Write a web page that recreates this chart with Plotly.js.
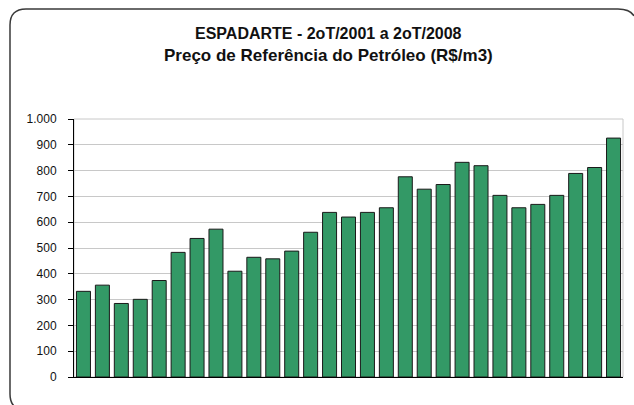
<!DOCTYPE html>
<html>
<head>
<meta charset="utf-8">
<script src="https://cdn.plot.ly/plotly-3.0.1.min.js"></script>
<style>
html,body{margin:0;padding:0;background:#fff;overflow:hidden;}
#chart{width:634px;height:405px;}
</style>
</head>
<body>
<div id="chart"></div>
<script>
// Quarters from 2oT/2001 to 2oT/2008
const quarters = [
  "2T01","3T01","4T01",
  "1T02","2T02","3T02","4T02",
  "1T03","2T03","3T03","4T03",
  "1T04","2T04","3T04","4T04",
  "1T05","2T05","3T05","4T05",
  "1T06","2T06","3T06","4T06",
  "1T07","2T07","3T07","4T07",
  "1T08","2T08"
];
const prices = [
  332, 356, 285, 301,
  374, 483, 537, 573,
  410, 464, 458, 488,
  561, 638, 620, 638,
  656, 776, 728, 746,
  832, 819, 704, 656,
  669, 704, 789, 812,
  926
];
const yTickVals = [0,100,200,300,400,500,600,700,800,900,1000];
const yTickText = ["0","100","200","300","400","500","600","700","800","900","1.000"];
const titleLine1 = "ESPADARTE - 2oT/2001 a 2oT/2008";
const titleLine2 = "Preço de Referência do Petróleo (R$/m3)";

const W = 634, H = 405;
const mL = 74, mR = 11, mT = 119, mB = 28;
const pw = W - mL - mR, ph = H - mT - mB;
function px(x){ return ((x - mL) / pw).toFixed(5); }
function py(y){ return ((H - mB - y) / ph).toFixed(5); }
function P(x,y){ return px(x) + "," + py(y); }

// open outer frame: top edge ending in the start of the right corner, left edge, bottom-left corner
const L = 10, T = 9, B = 410, r = 16;
const framePath =
  "M" + P(634, T + 7) + " Q" + P(630, T) + " " + P(618, T) +
  " L" + P(L + r, T) + " Q" + P(L, T) + " " + P(L, T + r) +
  " L" + P(L, B - r) + " Q" + P(L, B) + " " + P(L + r, B) +
  " L" + P(634, B);

const trace = {
  type: "bar",
  x: quarters,
  y: prices,
  marker: { color: "#339966", line: { color: "#1a1a1a", width: 1 } },
  hoverinfo: "x+y"
};

const layout = {
  width: W, height: H,
  margin: { l: mL, r: mR, t: mT, b: mB, pad: 0 },
  paper_bgcolor: "#ffffff",
  plot_bgcolor: "#ffffff",
  showlegend: false,
  bargap: 0.26,
  font: { family: "Liberation Sans, Arial, sans-serif", color: "#1a1a1a" },
  xaxis: {
    type: "category",
    showticklabels: false,
    ticks: "",
    showgrid: false,
    showline: true,
    linecolor: "#000000",
    linewidth: 1,
    zeroline: false,
    fixedrange: true
  },
  yaxis: {
    range: [0, 1000],
    tickvals: yTickVals,
    ticktext: yTickText,
    ticks: "outside",
    ticklen: 5,
    tickcolor: "#000000",
    tickwidth: 1,
    ticklabelstandoff: 9,
    tickfont: { size: 12, color: "#111111", family: "Liberation Sans, Arial, sans-serif" },
    showline: true,
    linecolor: "#000000",
    linewidth: 1,
    showgrid: true,
    gridcolor: "#c8c8c8",
    gridwidth: 1,
    zeroline: false,
    fixedrange: true
  },
  shapes: [
    { type: "rect", xref: "paper", yref: "paper", x0: 0, x1: 1, y0: 0, y1: 1,
      line: { color: "#c8c8c8", width: 1 }, layer: "below" },
    { type: "path", xref: "paper", yref: "paper", path: framePath,
      fillcolor: "rgba(0,0,0,0)",
      line: { color: "#3a3a3a", width: 1.5 }, layer: "above" }
  ],
  annotations: [
    { xref: "paper", yref: "paper", x: px(329), y: py(34), xanchor: "center", yanchor: "middle",
      text: "<b>" + titleLine1 + "</b>", showarrow: false,
      font: { size: 16, color: "#111111", family: "Liberation Sans, Arial, sans-serif" } },
    { xref: "paper", yref: "paper", x: px(329), y: py(56), xanchor: "center", yanchor: "middle",
      text: "<b>" + titleLine2 + "</b>", showarrow: false,
      font: { size: 17, color: "#111111", family: "Liberation Sans, Arial, sans-serif" } }
  ]
};

Plotly.newPlot("chart", [trace], layout, { staticPlot: true, displayModeBar: false });
</script>
</body>
</html>
